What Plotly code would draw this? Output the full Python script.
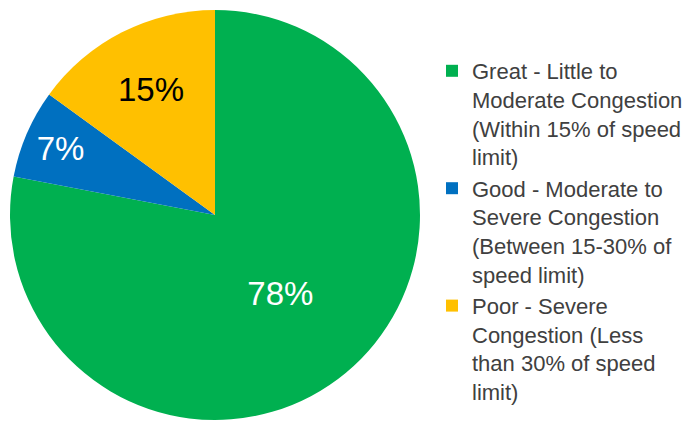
import plotly.graph_objects as go

labels = [
    "Great - Little to<br>Moderate Congestion<br>(Within 15% of speed<br>limit)",
    "Good - Moderate to<br>Severe Congestion<br>(Between 15-30% of<br>speed limit)",
    "Poor - Severe<br>Congestion (Less<br>than 30% of speed<br>limit)",
]
values = [78, 7, 15]
colors = ["#00B050", "#0070C0", "#FFC000"]
label_colors = ["white", "white", "black"]

W, H = 693, 422

fig = go.Figure(go.Pie(
    labels=labels,
    values=values,
    sort=False,
    direction="clockwise",
    rotation=0,
    marker=dict(colors=colors, line=dict(width=0)),
    textinfo="percent",
    texttemplate="%{percent:.0%}",
    textposition="inside",
    insidetextorientation="horizontal",
    textfont=dict(family="Liberation Sans, Arial, sans-serif", size=33, color=label_colors),
    domain=dict(x=[10 / W, 420 / W], y=[1 - 420 / H, 1 - 10 / H]),
    hoverinfo="skip",
))

fig.update_layout(
    width=W, height=H,
    margin=dict(l=0, r=0, t=0, b=0),
    paper_bgcolor="white",
    plot_bgcolor="white",
    uniformtext=dict(minsize=33, mode="show"),
    showlegend=True,
    legend=dict(
        x=432 / W, xanchor="left",
        y=1 - 50 / H, yanchor="top",
        valign="top",
        font=dict(family="Liberation Sans, Arial, sans-serif", size=22, color="#404040"),
        bgcolor="rgba(0,0,0,0)",
        tracegroupgap=0,
        itemwidth=30,
    ),
)

fig.write_html("out.html")
